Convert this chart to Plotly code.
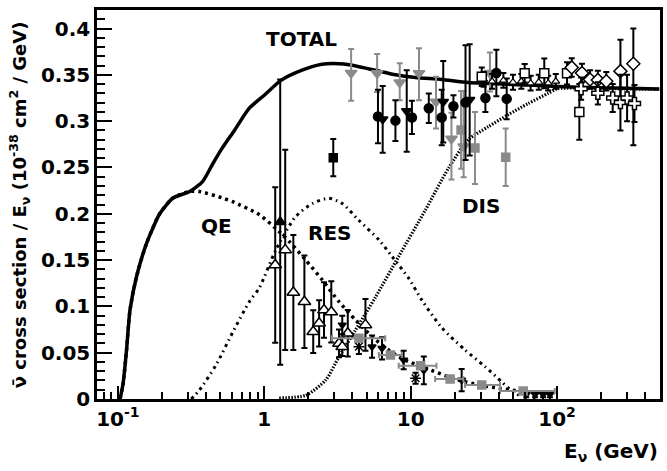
import plotly.graph_objects as go
import math

# ---------------- curves ----------------
E_tot = [0.1035, 0.1086, 0.1146, 0.121, 0.134, 0.157, 0.193, 0.238, 0.309, 0.38, 0.445, 0.507, 0.625, 0.79,
         1.0, 1.30, 1.81, 2.48, 3.24, 3.79, 5.75, 7.87, 10.8, 16.3, 24.8, 63.5, 139, 300, 500]
s_tot = [0.0, 0.017, 0.053, 0.096, 0.132, 0.168, 0.200, 0.217, 0.224, 0.235, 0.254, 0.269, 0.290, 0.314,
         0.328, 0.344, 0.355, 0.3614, 0.362, 0.361, 0.355, 0.350, 0.347, 0.345, 0.3417, 0.339, 0.3366, 0.3355, 0.3348]

E_qe = [0.1035, 0.1086, 0.1146, 0.121, 0.134, 0.157, 0.193, 0.238, 0.309, 0.36, 0.52, 0.609, 0.925, 1.20, 1.48,
        1.92, 2.49, 3.24, 4.20, 5.45, 7.06, 9.15, 13.9, 18.1, 23.5, 39.7, 60.1, 96.5]
s_qe = [0.0, 0.017, 0.053, 0.096, 0.132, 0.168, 0.200, 0.217, 0.224, 0.224, 0.217, 0.213, 0.199, 0.184, 0.170,
        0.150, 0.1285, 0.105, 0.0853, 0.0673, 0.053, 0.042, 0.031, 0.024, 0.0187, 0.0116, 0.0079, 0.0054]

E_res = [0.317, 0.361, 0.469, 0.609, 0.79, 0.925, 1.20, 1.64, 2.13, 2.77, 3.41, 4.42, 6.06, 7.45, 9.73,
         11.9, 16.3, 23.5, 32.2, 41.8, 46.4, 55]
s_res = [0.0, 0.0097, 0.037, 0.072, 0.105, 0.12, 0.161, 0.197, 0.211, 0.2167, 0.211, 0.193, 0.172, 0.154, 0.130,
         0.107, 0.077, 0.053, 0.035, 0.0187, 0.012, 0.004]

E_dis = [1.265, 1.92, 2.63, 3.24, 4.2, 5.75, 8.29, 12.6, 18.1, 24.8, 33.9, 46.4, 63.5, 86.8, 101, 200, 500]
s_dis = [0.001, 0.004, 0.0205, 0.0457, 0.0745, 0.11, 0.154, 0.204, 0.249, 0.28, 0.294, 0.307, 0.319, 0.330,
         0.335, 0.3352, 0.3343]

# ---------------- data points ----------------
# open up-triangles (QE data)
A_E = [1.188, 1.39, 1.58, 1.88, 2.16, 2.37, 2.56, 2.87, 3.24, 3.41, 3.72, 4.91]
A_s = [0.1447, 0.161, 0.115, 0.105, 0.0727, 0.0817, 0.096, 0.094, 0.060, 0.0565, 0.071, 0.080]
A_e = [0.084, 0.108, 0.062, 0.050, 0.023, 0.025, 0.030, 0.033, 0.015, 0.010, 0.025, 0.028]

# filled up-triangle
B_E = [1.285]
B_s = [0.191]
B_e = [0.154]

# filled black square
C_E = [2.96]
C_s = [0.2606]
C_e = [0.020]

# gray down triangles
D_E = [3.92, 5.90, 8.42, 11.4, 14.9, 19.0, 23.0, 34.8]
D_s = [0.352, 0.3516, 0.3416, 0.3516, 0.321, 0.281, 0.2725, 0.352]
D_ep = [0.026, 0.021, 0.021, 0.027, 0.027, 0.028, 0.060, 0.022]
D_em = [0.030, 0.020, 0.019, 0.029, 0.029, 0.044, 0.033, 0.020]

# black circles
E_E = [5.98, 7.87, 10.2, 13.3, 16.3, 19.6, 23.7, 32.4, 38.5, 45.3]
E_s = [0.305, 0.3006, 0.304, 0.3139, 0.304, 0.316, 0.320, 0.325, 0.352, 0.324]
E_e = [0.029, 0.022, 0.018, 0.016, 0.030, 0.012, 0.062, 0.015, 0.025, 0.022]

# black down triangles (total)
F_E = [6.44, 9.40, 16.7, 25.3]
F_s = [0.302, 0.311, 0.321, 0.323]
F_e = [0.036, 0.044, 0.044, 0.060]

# gray squares (total)
G_E = [22.1, 27.5, 44.6]
G_s = [0.2905, 0.271, 0.261]
G_e = [0.042, 0.039, 0.031]

# open squares
H_E = [30.6, 60.1, 81.8, 117, 142]
H_s = [0.348, 0.3516, 0.3516, 0.3516, 0.310]
H_e = [0.010, 0.010, 0.016, 0.012, 0.030]

# open diamonds
I_E = [126, 148, 168, 190, 217, 271, 332]
I_s = [0.358, 0.352, 0.345, 0.3445, 0.343, 0.354, 0.362]
I_ep = [0.010, 0.010, 0.010, 0.010, 0.010, 0.034, 0.038]
I_em = [0.010, 0.010, 0.010, 0.010, 0.010, 0.034, 0.088]

# open crosses
J_E = [146, 190, 240, 271, 301, 338]
J_s = [0.335, 0.330, 0.325, 0.320, 0.325, 0.319]
J_e = [0.012, 0.012, 0.015, 0.030, 0.025, 0.020]

# small open triangles along total
K_E = [31.5, 36.0, 43.0, 50.0, 57.0, 66.0, 75.0, 87.0, 98.0]
K_s = [0.345, 0.343, 0.344, 0.342, 0.343, 0.341, 0.342, 0.341, 0.343]
K_e = [0.008, 0.008, 0.008, 0.008, 0.008, 0.008, 0.008, 0.008, 0.008]

# black down triangles (QE)
L_E = [3.41, 5.45, 6.37, 8.95, 12.3, 22.3, 61.6, 70.8, 80.3, 89.4]
L_s = [0.080, 0.0565, 0.0547, 0.042, 0.031, 0.0205, 0.005, 0.005, 0.005, 0.005]
L_e = [0.010, 0.012, 0.012, 0.010, 0.015, 0.012, 0.003, 0.003, 0.003, 0.003]

# gray squares with horizontal bars (QE)
M_E = [4.43, 7.28, 11.7, 18.6, 30.6, 58.7]
M_s = [0.0655, 0.0475, 0.036, 0.0216, 0.0151, 0.0086]
M_lo = [2.9, 6.06, 8.29, 14.7, 23.5, 40.7]
M_hi = [6.7, 8.7, 15.0, 22.9, 40.7, 96.5]

# asterisks
N_E = [4.43, 10.8]
N_s = [0.0565, 0.0224]
N_e = [0.008, 0.006]

# x-axis ticks
x_major = [0.1, 1, 10, 100]
x_major_text = ["10<sup>-1</sup>", "1", "10", "10<sup>2</sup>"]
x_minor = [0.08, 0.09, 0.2, 0.3, 0.4, 0.5, 0.6, 0.7, 0.8, 0.9, 2, 3, 4, 5, 6, 7, 8, 9,
           20, 30, 40, 50, 60, 70, 80, 90, 200, 300, 400, 500]

FONT = "DejaVu Sans"
BLACK = "black"
GRAY = "#8a8a8a"

fig = go.Figure()

fig.add_trace(go.Scatter(x=E_dis, y=s_dis, mode="lines",
                         line=dict(color=BLACK, width=3.2, dash="1.5px,1.5px", shape="spline", smoothing=0.7),
                         hoverinfo="skip"))
fig.add_trace(go.Scatter(x=E_res, y=s_res, mode="lines",
                         line=dict(color=BLACK, width=3, dash="3px,4px,1.5px,4px", shape="spline", smoothing=0.7),
                         hoverinfo="skip"))
fig.add_trace(go.Scatter(x=E_qe, y=s_qe, mode="lines",
                         line=dict(color=BLACK, width=3.5, dash="3px,4px", shape="spline", smoothing=0.7),
                         hoverinfo="skip"))
fig.add_trace(go.Scatter(x=E_tot, y=s_tot, mode="lines",
                         line=dict(color=BLACK, width=3.5, shape="spline", smoothing=0.6),
                         hoverinfo="skip"))


def pts(x, y, ep, symbol, color, size, em=None, fill=None, lw=1.5, ecolor=None, ex=None):
    ey = dict(type="data", array=ep, color=ecolor or color, thickness=2, width=3)
    if em is not None:
        ey["arrayminus"] = em
        ey["symmetric"] = False
    tr = dict(x=x, y=y, mode="markers", error_y=ey,
              marker=dict(symbol=symbol, size=size, color=fill if fill else color,
                          line=dict(color=color, width=lw)), hoverinfo="skip")
    if ex is not None:
        tr["error_x"] = ex
    fig.add_trace(go.Scatter(**tr))


pts(A_E, A_s, A_e, "triangle-up", BLACK, 11, fill="white")
pts(B_E, B_s, B_e, "triangle-up", BLACK, 10)
pts(C_E, C_s, C_e, "square", BLACK, 8)
pts(D_E, D_s, D_ep, "triangle-down", GRAY, 10, em=D_em)
pts(G_E, G_s, G_e, "square", GRAY, 8)
pts(E_E, E_s, E_e, "circle", BLACK, 9)
pts(F_E, F_s, F_e, "triangle-down", BLACK, 9)
pts(K_E, K_s, K_e, "triangle-up", BLACK, 7, fill="white", lw=1.2)
pts(H_E, H_s, H_e, "square", BLACK, 9, fill="white")
pts(I_E, I_s, I_ep, "diamond", BLACK, 10, em=I_em, fill="white")
pts(J_E, J_s, J_e, "cross", BLACK, 10, fill="white")
pts(L_E, L_s, L_e, "triangle-down", BLACK, 7)
pts(N_E, N_s, N_e, "asterisk-open", BLACK, 9, lw=1.5)
pts(M_E, M_s, [0] * len(M_E), "square", GRAY, 8,
    ex=dict(type="data", symmetric=False,
            array=[h - e for h, e in zip(M_hi, M_E)],
            arrayminus=[e - l for e, l in zip(M_E, M_lo)],
            color=GRAY, thickness=2, width=3))

lab = dict(family=FONT, size=20, color=BLACK, weight="bold")
for txt, xv, yv in [("TOTAL", 1.79, 0.389), ("QE", 0.47, 0.187), ("RES", 2.8, 0.179), ("DIS", 30.0, 0.208)]:
    fig.add_annotation(x=math.log10(xv), y=yv, text=txt, showarrow=False, font=lab,
                       xanchor="center", yanchor="middle")

fig.add_annotation(xref="paper", yref="paper", x=-0.139, y=0.5, textangle=-90, showarrow=False,
                   text="ν\u0304 cross section / E<sub>ν</sub> (10<sup>-38</sup> cm<sup>2</sup> / GeV)",
                   font=dict(family=FONT, size=18, color=BLACK, weight="bold"),
                   xanchor="center", yanchor="middle")
fig.add_annotation(xref="paper", yref="paper", x=1.0, y=-0.135, showarrow=False,
                   text="E<sub>ν</sub> (GeV)",
                   font=dict(family=FONT, size=20, color=BLACK, weight="bold"),
                   xanchor="right", yanchor="middle")

tickfont = dict(family=FONT, size=20, color=BLACK, weight="bold")
fig.update_xaxes(type="log", range=[math.log10(0.072), math.log10(505)],
                 tickmode="array", tickvals=x_major, ticktext=x_major_text,
                 ticks="inside", ticklen=13, tickwidth=2, tickcolor=BLACK,
                 minor=dict(tickmode="array", tickvals=x_minor, ticks="inside", ticklen=7,
                            tickwidth=2, tickcolor=BLACK, showgrid=False),
                 showline=True, linewidth=2.5, linecolor=BLACK, mirror=True,
                 showgrid=False, zeroline=False, tickfont=tickfont)
fig.update_yaxes(range=[0, 0.42], dtick=0.05, tick0=0,
                 ticks="inside", ticklen=15, tickwidth=2, tickcolor=BLACK,
                 minor=dict(dtick=0.01, ticks="inside", ticklen=8, tickwidth=2, tickcolor=BLACK,
                            showgrid=False),
                 showline=True, linewidth=2.5, linecolor=BLACK, mirror=True,
                 showgrid=False, zeroline=False, tickfont=tickfont)

fig.update_layout(width=667, height=471, margin=dict(l=97, r=4, t=10, b=72),
                  plot_bgcolor="white", paper_bgcolor="white", showlegend=False)

fig.write_html("out.html")
